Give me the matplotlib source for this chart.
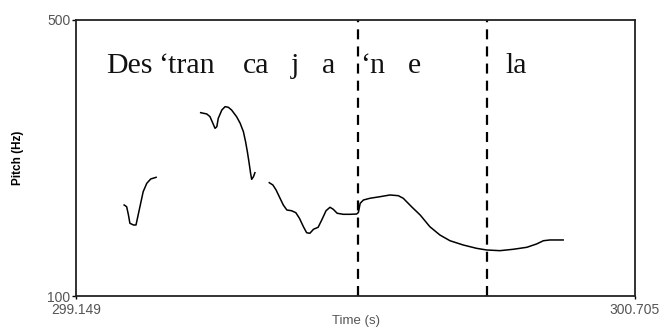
import matplotlib
matplotlib.use("Agg")
import matplotlib.pyplot as plt

# pitch track: time (s), f0 (Hz), one list per voiced stretch
SEG1_T = [299.283, 299.290, 299.295, 299.299, 299.309, 299.316, 299.322,
          299.329, 299.336, 299.346, 299.357, 299.372]
SEG1_F = [231.9, 229.4, 217.4, 205.4, 202.9, 202.9, 217.4,
          234.3, 251.2, 263.3, 269.6, 272.0]

SEG2_T = [299.496, 299.513, 299.522, 299.530, 299.536, 299.541, 299.545,
          299.555, 299.564, 299.573, 299.582, 299.596, 299.606, 299.615,
          299.621, 299.626, 299.631, 299.635, 299.638, 299.643, 299.647]
SEG2_F = [365.7, 363.8, 359.9, 350.3, 343.0, 345.4, 357.5,
          369.6, 374.4, 373.5, 369.6, 359.9, 350.3, 338.1,
          323.6, 309.1, 292.3, 277.8, 269.1, 272.9, 278.7]

SEG3_T = [299.687, 299.697, 299.706, 299.717, 299.726, 299.736, 299.749,
          299.761, 299.771, 299.782, 299.791, 299.800, 299.810, 299.823,
          299.833, 299.845, 299.856, 299.865, 299.876, 299.893, 299.912,
          299.930, 299.935, 299.940, 299.949, 299.967, 299.995, 300.023,
          300.046, 300.060, 300.083, 300.107, 300.134, 300.162, 300.190,
          300.227, 300.264, 300.292, 300.329, 300.366, 300.404, 300.431,
          300.450, 300.468, 300.505]
SEG3_F = [264.2, 260.9, 253.6, 241.6, 231.9, 224.6, 223.6,
          220.7, 212.6, 200.4, 191.7, 190.9, 196.7, 199.6,
          210.1, 223.6, 228.6, 225.7, 219.9, 218.4, 218.4,
          218.8, 221.0, 234.3, 239.1, 241.6, 243.9, 246.4,
          245.4, 241.6, 229.4, 217.4, 200.4, 188.4, 180.1,
          173.9, 169.1, 166.7, 165.7, 167.7, 170.6, 175.4,
          180.1, 181.2, 181.2]

SEGMENTS = [(SEG1_T, SEG1_F), (SEG2_T, SEG2_F), (SEG3_T, SEG3_F)]

T_MIN, T_MAX = 299.149, 300.705
F_MIN, F_MAX = 100, 500
BOUNDARIES = [299.934, 300.293]

SYLLABLES = ["Des", "\u2018tran", "ca", "j", "a", "\u2018n", "e", "la"]
SYLLABLE_T = [299.2325, 299.3772, 299.6138, 299.7475, 299.8337,
              299.9395, 300.0731, 300.3431]
TEXT_F = 423.6

GREY = "#555555"

fig = plt.figure(figsize=(6.64, 3.27), dpi=100)
ax = fig.add_axes([76 / 664, 31 / 327, 559 / 664, 276 / 327])

for t, f in SEGMENTS:
    ax.plot(t, f, color="black", linewidth=1.1, solid_joinstyle="round")

for b in BOUNDARIES:
    ax.axvline(b, color="black", linewidth=1.6, linestyle=(0, (4.5, 3.2)))

for s, t in zip(SYLLABLES, SYLLABLE_T):
    ax.text(t, TEXT_F, s, fontsize=21.5, family="Liberation Serif",
            color="#111111", ha="left", va="baseline")

ax.set_xlim(T_MIN, T_MAX)
ax.set_ylim(F_MIN, F_MAX)
ax.set_xticks([T_MIN, T_MAX])
ax.set_xticklabels(["%.3f" % T_MIN, "%.3f" % T_MAX])
ax.set_yticks([F_MIN, F_MAX])
ax.set_yticklabels([str(F_MIN), str(F_MAX)])

for lab in ax.get_xticklabels() + ax.get_yticklabels():
    lab.set_family("Liberation Sans")
    lab.set_color(GREY)
    lab.set_fontsize(10)

ax.tick_params(axis="x", direction="out", length=2.5, width=1, pad=2.5)
ax.tick_params(axis="y", direction="out", length=3, width=1, pad=1)

for sp in ax.spines.values():
    sp.set_linewidth(1.3)
    sp.set_color("#222222")

ax.set_xlabel("Time (s)", fontsize=9.5, family="Liberation Sans",
              color=GREY)
ax.xaxis.set_label_coords(0.5, -25 / 276)
ax.xaxis.label.set_va("center")

ax.set_ylabel("Pitch (Hz)", fontsize=8.5, family="Liberation Sans",
              fontweight="bold", color="black")
ax.yaxis.set_label_coords(-58 / 559, 0.5)
ax.yaxis.label.set_va("center")

fig.savefig("out.png", dpi=100)
